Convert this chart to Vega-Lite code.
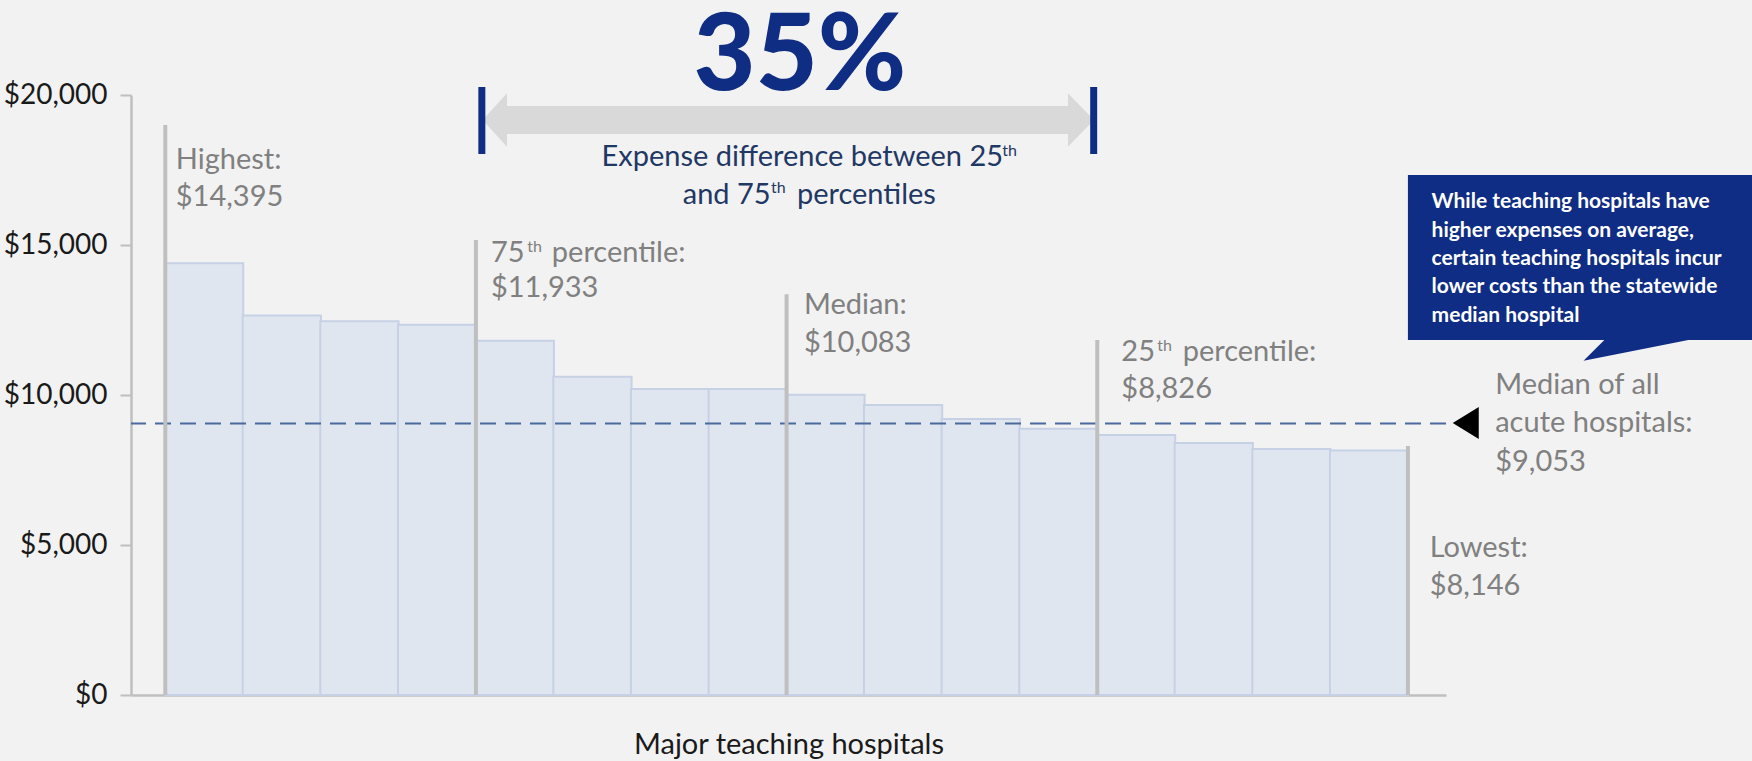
{
  "$schema": "https://vega.github.io/schema/vega-lite/v6.json",
  "width": 1315,
  "height": 600,
  "autosize": {"type": "none"},
  "padding": {"left": 131, "top": 95, "right": 306, "bottom": 66},
  "background": "#F2F2F2",
  "config": {"view": {"stroke": null}, "font": "Lato"},
  "datasets": {
    "bars": [
      {"rank": 1, "expense": 14395},
      {"rank": 2, "expense": 12650},
      {"rank": 3, "expense": 12460},
      {"rank": 4, "expense": 12340},
      {"rank": 5, "expense": 11810},
      {"rank": 6, "expense": 10610},
      {"rank": 7, "expense": 10200},
      {"rank": 8, "expense": 10200},
      {"rank": 9, "expense": 10010},
      {"rank": 10, "expense": 9667},
      {"rank": 11, "expense": 9200},
      {"rank": 12, "expense": 8877},
      {"rank": 13, "expense": 8667},
      {"rank": 14, "expense": 8400},
      {"rank": 15, "expense": 8200},
      {"rank": 16, "expense": 8146}
    ],
    "markers": [
      {"pos": 0.5, "top": 19000},
      {"pos": 4.5, "top": 15170},
      {"pos": 8.5, "top": 13360},
      {"pos": 12.5, "top": 11830},
      {"pos": 16.5, "top": 8300}
    ],
    "median_all": [{"value": 9053}],
    "navy_marks": [{"pos": 4.576}, {"pos": 12.454}],
    "gray_text": [
      {"x": 0.635, "y": 17533, "t": "Highest:"},
      {"x": 0.635, "y": 16300, "t": "$14,395"},
      {"x": 4.693, "y": 14433, "t": "75"},
      {"x": 5.477, "y": 14433, "t": "percentile:"},
      {"x": 4.693, "y": 13267, "t": "$11,933"},
      {"x": 8.723, "y": 12700, "t": "Median:"},
      {"x": 8.723, "y": 11433, "t": "$10,083"},
      {"x": 12.81, "y": 11143, "t": "25"},
      {"x": 13.6, "y": 11143, "t": "percentile:"},
      {"x": 12.81, "y": 9900, "t": "$8,826"},
      {"x": 17.624, "y": 10033, "t": "Median of all"},
      {"x": 17.624, "y": 8777, "t": "acute hospitals:"},
      {"x": 17.624, "y": 7477, "t": "$9,053"},
      {"x": 16.78, "y": 4610, "t": "Lowest:"},
      {"x": 16.78, "y": 3333, "t": "$8,146"}
    ],
    "gray_sup": [
      {"x": 5.16, "y": 14777, "t": "th"},
      {"x": 13.272, "y": 11477, "t": "th"}
    ],
    "navy_text": [
      {"x": 6.116, "y": 17633, "t": "Expense difference between 25"},
      {"x": 7.163, "y": 16367, "t": "and 75"},
      {"x": 8.633, "y": 16367, "t": "percentiles"}
    ],
    "navy_sup": [
      {"x": 11.278, "y": 17977, "t": "th"},
      {"x": 8.3, "y": 16723, "t": "th"}
    ],
    "callout": [
      {"x": 16.805, "y": 16223, "t": "While teaching hospitals have"},
      {"x": 16.805, "y": 15277, "t": "higher expenses on average,"},
      {"x": 16.805, "y": 14333, "t": "certain teaching hospitals incur"},
      {"x": 16.805, "y": 13400, "t": "lower costs than the statewide"},
      {"x": 16.805, "y": 12443, "t": "median hospital"}
    ]
  },
  "layer": [
    {
      "data": {"name": "bars"},
      "mark": {"type": "bar", "orient": "vertical", "width": 78.26, "fill": "#DFE6F0", "stroke": "#C6D1E5", "strokeWidth": 2},
      "encoding": {
        "x": {
          "field": "rank", "type": "quantitative",
          "scale": {"domain": [0.123, 16.926], "nice": false, "zero": false},
          "axis": {
            "title": "Major teaching hospitals", "labels": false, "ticks": false, "grid": false,
            "domainColor": "#BFBFBF", "domainWidth": 2.5,
            "titleFont": "Lato", "titleFontSize": 29, "titleFontWeight": "normal", "titleColor": "#1A1A1A",
            "titleBaseline": "alphabetic", "titleY": 58
          }
        },
        "y": {
          "field": "expense", "type": "quantitative",
          "scale": {"domain": [0, 20000], "nice": false},
          "axis": {
            "title": null, "values": [0, 5000, 10000, 15000, 20000], "format": "$,.0f", "grid": false,
            "domainColor": "#BFBFBF", "domainWidth": 2.5, "tickColor": "#BFBFBF", "tickWidth": 2, "tickSize": 11,
            "labelFont": "Lato", "labelFontSize": 28, "labelColor": "#1A1A1A", "labelPadding": 13
          }
        }
      }
    },
    {
      "data": {"name": "median_all"},
      "mark": {"type": "rule", "stroke": "#4A699C", "strokeWidth": 2, "strokeDash": [16, 9]},
      "encoding": {"y": {"field": "value", "type": "quantitative"}}
    },
    {
      "data": {"name": "markers"},
      "mark": {"type": "rule", "stroke": "#BFBFBF", "strokeWidth": 4},
      "encoding": {
        "x": {"field": "pos", "type": "quantitative"},
        "y": {"field": "top", "type": "quantitative"},
        "y2": {"datum": 0}
      }
    },
    {
      "data": {"values": [{}]},
      "mark": {"type": "point", "shape": "M-305.7,0L-281.3,-26.7L-281.3,-14L279.7,-14L279.7,-26.7L305.7,0L279.7,26.7L279.7,14L-281.3,14L-281.3,26.7Z", "size": 4, "filled": true, "fill": "#D9D9D9", "opacity": 1, "strokeWidth": 0},
      "encoding": {"x": {"datum": 8.522, "type": "quantitative"}, "y": {"datum": 19167, "type": "quantitative"}}
    },
    {
      "data": {"name": "navy_marks"},
      "mark": {"type": "rule", "stroke": "#0F2D84", "strokeWidth": 7},
      "encoding": {
        "x": {"field": "pos", "type": "quantitative"},
        "y": {"datum": 18033, "type": "quantitative"},
        "y2": {"datum": 20267}
      }
    },
    {
      "data": {"values": [{}]},
      "mark": {"type": "rect", "fill": "#0F2D84"},
      "encoding": {
        "x": {"datum": 16.5, "type": "quantitative"},
        "x2": {"datum": 21.5},
        "y": {"datum": 11833, "type": "quantitative"},
        "y2": {"datum": 17333}
      }
    },
    {
      "data": {"values": [{}]},
      "mark": {"type": "point", "shape": "M0,-2L84,-2L84,0L-20.8,20.7L0,0Z", "size": 4, "filled": true, "fill": "#0F2D84", "opacity": 1, "strokeWidth": 0},
      "encoding": {"x": {"datum": 19.029, "type": "quantitative"}, "y": {"datum": 11833, "type": "quantitative"}}
    },
    {
      "data": {"values": [{}]},
      "mark": {"type": "point", "shape": "M-13,0L13,-16L13,16Z", "size": 4, "filled": true, "fill": "#000000", "opacity": 1, "strokeWidth": 0},
      "encoding": {"x": {"datum": 17.245, "type": "quantitative"}, "y": {"datum": 9067, "type": "quantitative"}}
    },
    {
      "data": {"name": "gray_text"},
      "mark": {"type": "text", "font": "Lato", "fontSize": 29, "fill": "#808080", "align": "left", "baseline": "alphabetic"},
      "encoding": {
        "x": {"field": "x", "type": "quantitative"},
        "y": {"field": "y", "type": "quantitative"},
        "text": {"field": "t"}
      }
    },
    {
      "data": {"name": "gray_sup"},
      "mark": {"type": "text", "font": "Lato", "fontSize": 16, "fill": "#808080", "align": "left", "baseline": "alphabetic"},
      "encoding": {
        "x": {"field": "x", "type": "quantitative"},
        "y": {"field": "y", "type": "quantitative"},
        "text": {"field": "t"}
      }
    },
    {
      "data": {"name": "navy_text"},
      "mark": {"type": "text", "font": "Lato", "fontSize": 29, "fill": "#1F3864", "align": "left", "baseline": "alphabetic"},
      "encoding": {
        "x": {"field": "x", "type": "quantitative"},
        "y": {"field": "y", "type": "quantitative"},
        "text": {"field": "t"}
      }
    },
    {
      "data": {"name": "navy_sup"},
      "mark": {"type": "text", "font": "Lato", "fontSize": 16, "fill": "#1F3864", "align": "left", "baseline": "alphabetic"},
      "encoding": {
        "x": {"field": "x", "type": "quantitative"},
        "y": {"field": "y", "type": "quantitative"},
        "text": {"field": "t"}
      }
    },
    {
      "data": {"name": "callout"},
      "mark": {"type": "text", "font": "Lato", "fontSize": 21, "fontWeight": "bold", "fill": "#FFFFFF", "align": "left", "baseline": "alphabetic"},
      "encoding": {
        "x": {"field": "x", "type": "quantitative"},
        "y": {"field": "y", "type": "quantitative"},
        "text": {"field": "t"}
      }
    },
    {
      "data": {"values": [{"label": "35%"}]},
      "mark": {"type": "text", "font": "Lato", "fontSize": 107, "fontWeight": 900, "fill": "#102D84", "align": "center", "baseline": "alphabetic"},
      "encoding": {
        "x": {"datum": 8.671, "type": "quantitative"},
        "y": {"datum": 20167, "type": "quantitative"},
        "text": {"field": "label"}
      }
    }
  ]
}
